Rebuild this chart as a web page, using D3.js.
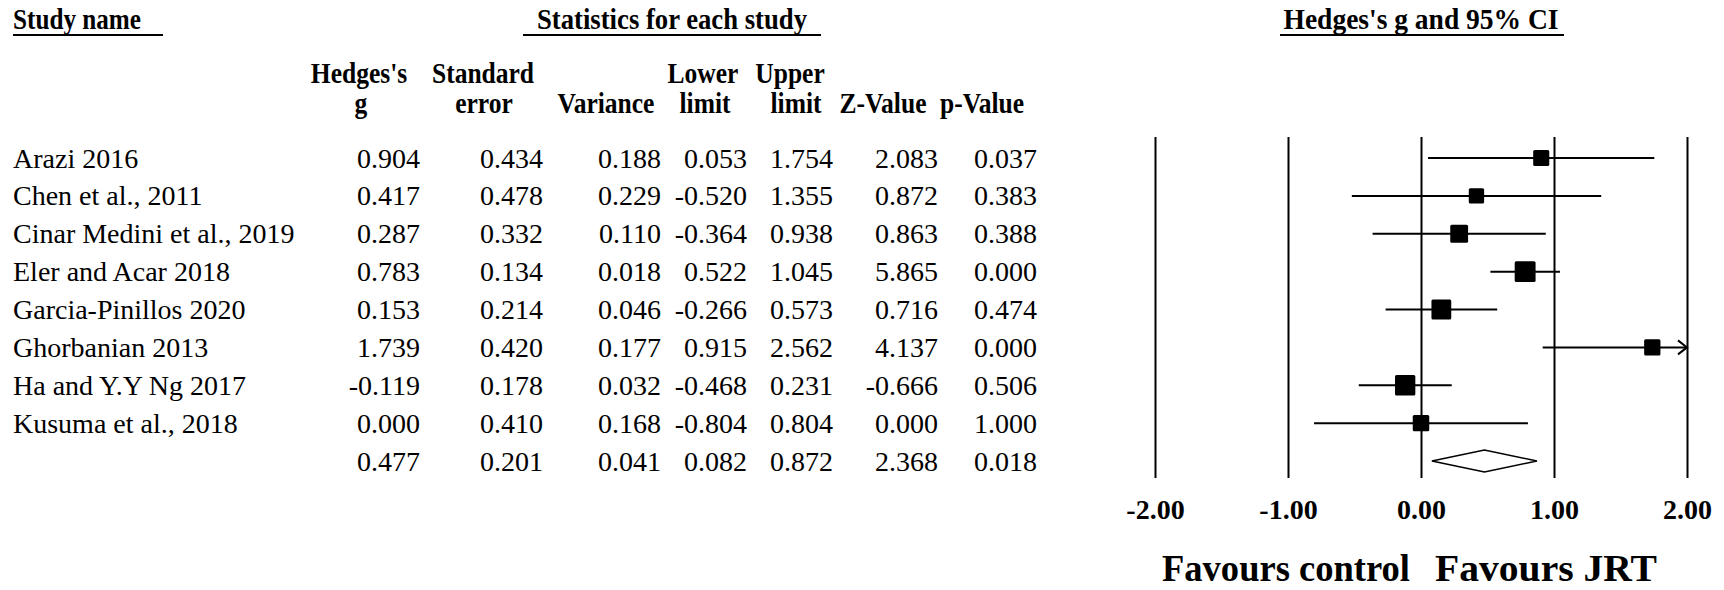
<!DOCTYPE html>
<html lang="en">
<head>
<meta charset="UTF-8">
<script src="https://d3js.org/d3.v7.min.js"></script>
<style>
  body { margin: 0; background: #fff; }
  svg { display: block; font-family: "Liberation Serif", "Times New Roman", serif; }
  .cell { font-size: 28px; fill: #000; }
  .head { font-size: 29px; font-weight: bold; }
  .title { font-size: 30px; font-weight: bold; }
  .tick line { stroke: #000; stroke-width: 2; }
  .favour { font-size: 37px; font-weight: bold; }
</style>
</head>
<body>
<svg width="1724" height="590"></svg>
<script>

// data
var studies = ["Arazi 2016", "Chen et al., 2011", "Cinar Medini et al., 2019", "Eler and Acar 2018",
               "Garcia-Pinillos 2020", "Ghorbanian 2013", "Ha and Y.Y Ng 2017", "Kusuma et al., 2018"];
var hedgesG    = [0.904, 0.417, 0.287, 0.783, 0.153, 1.739, -0.119, 0.000];
var stdErr     = [0.434, 0.478, 0.332, 0.134, 0.214, 0.420, 0.178, 0.410];
var variance   = [0.188, 0.229, 0.110, 0.018, 0.046, 0.177, 0.032, 0.168];
var lowerLimit = [0.053, -0.520, -0.364, 0.522, -0.266, 0.915, -0.468, -0.804];
var upperLimit = [1.754, 1.355, 0.938, 1.045, 0.573, 2.562, 0.231, 0.804];
var zValue     = [2.083, 0.872, 0.863, 5.865, 0.716, 4.137, -0.666, 0.000];
var pValue     = [0.037, 0.383, 0.388, 0.000, 0.474, 0.000, 0.506, 1.000];
// pooled row: g, se, variance, lower, upper, z, p
var summaryRow = [0.477, 0.201, 0.041, 0.082, 0.872, 2.368, 0.018];
var tau2 = 0.23;   // between-study variance, only used to size the boxes
var tickValues = [-2, -1, 0, 1, 2];
var headerTop    = ["Hedges's", "Standard", "", "Lower", "Upper", "", ""];
var headerBottom = ["g", "error", "Variance", "limit", "limit", "Z-Value", "p-Value"];

// layout
var svg = d3.select("svg");
var colRight = [420, 543, 661, 747, 833, 938, 1037];
var headTopX = [359, 483, 606, 703, 790, 883, 982];
var headBotX = [361, 484, 606, 705, 796, 883, 982];
var gridTop = 137, gridBottom = 478;

var loc = d3.formatLocale({decimal: ".", thousands: ",", grouping: [3], currency: ["", ""], minus: "-"});
var f3 = loc.format(".3f"), f2 = loc.format(".2f");

var y = d3.scaleLinear().domain([0, 8]).range([158, 461]);
var x = d3.scaleLinear().domain([-2, 2]).range([1155, 1687]);

// titles with underline
var titles = [
  {text: "Study name", x: 13, anchor: "start", len: 128, u0: 13, u1: 163},
  {text: "Statistics for each study", x: 672, anchor: "middle", len: 270, u0: 523, u1: 821},
  {text: "Hedges's g and 95% CI", x: 1421, anchor: "middle", len: 275, u0: 1280, u1: 1564}
];
titles.forEach(function(t) {
  svg.append("text").attr("class", "title")
    .attr("x", t.x).attr("y", 29)
    .attr("text-anchor", t.anchor)
    .attr("textLength", t.len).attr("lengthAdjust", "spacingAndGlyphs")
    .text(t.text);
  svg.append("line")
    .attr("x1", t.u0).attr("x2", t.u1).attr("y1", 35).attr("y2", 35)
    .attr("stroke", "#000").attr("stroke-width", 2);
});

// column headers
function condensed(txt, cx, cy) {
  if (!txt) return;
  svg.append("text").attr("class", "head")
    .attr("text-anchor", "middle")
    .attr("transform", "translate(" + cx + "," + cy + ") scale(0.88,1)")
    .text(txt);
}
headerTop.forEach(function(h, i) { condensed(h, headTopX[i], 83); });
headerBottom.forEach(function(h, i) { condensed(h, headBotX[i], 113); });

// table rows
var rows = studies.map(function(s, i) {
  return {name: s, vals: [hedgesG[i], stdErr[i], variance[i], lowerLimit[i], upperLimit[i], zValue[i], pValue[i]]};
});
rows.push({name: "", vals: summaryRow});

var tbl = svg.append("g");
rows.forEach(function(r, i) {
  tbl.append("text").attr("class", "cell")
    .attr("x", 13).attr("y", y(i) + 9.5)
    .text(r.name);
  r.vals.forEach(function(v, j) {
    tbl.append("text").attr("class", "cell")
      .attr("x", colRight[j]).attr("y", y(i) + 9.5)
      .attr("text-anchor", "end")
      .text(f3(v));
  });
});

// forest plot
var axis = d3.axisBottom(x).tickValues(tickValues).tickFormat(f2)
  .tickSizeInner(-(gridBottom - gridTop)).tickSizeOuter(0);
var ax = svg.append("g").attr("transform", "translate(0," + gridBottom + ")").call(axis)
  .attr("font-size", 28)
  .attr("font-family", "'Liberation Serif', 'Times New Roman', serif")
  .attr("font-weight", "bold");
ax.select(".domain").remove();
ax.selectAll(".tick text").attr("dy", null).attr("y", 41).attr("fill", "#000");

var studyData = studies.map(function(s, i) {
  return {g: hedgesG[i], lo: lowerLimit[i], hi: upperLimit[i], w: 1 / (variance[i] + tau2), i: i};
});
var side = d3.scaleSqrt().domain([0, 1]).range([0, 10.4]);
var xmin = x.domain()[0], xmax = x.domain()[1];

var fp = svg.append("g");
fp.selectAll("line.ci").data(studyData).join("line")
  .attr("class", "ci")
  .attr("x1", function(d) { return x(Math.max(d.lo, xmin)); })
  .attr("x2", function(d) { return x(Math.min(d.hi, xmax)); })
  .attr("y1", function(d) { return y(d.i); })
  .attr("y2", function(d) { return y(d.i); })
  .attr("stroke", "#000").attr("stroke-width", 2);

fp.selectAll("path.arrow").data(studyData.filter(function(d) { return d.hi > xmax; })).join("path")
  .attr("class", "arrow")
  .attr("d", function(d) {
    var ex = x(xmax), ey = y(d.i);
    return "M" + (ex - 9) + "," + (ey - 7) + "L" + ex + "," + ey + "L" + (ex - 9) + "," + (ey + 7);
  })
  .attr("fill", "none").attr("stroke", "#000").attr("stroke-width", 2);

fp.selectAll("rect.box").data(studyData).join("rect")
  .attr("class", "box")
  .attr("x", function(d) { return x(d.g) - side(d.w) / 2; })
  .attr("y", function(d) { return y(d.i) - side(d.w) / 2; })
  .attr("width", function(d) { return side(d.w); })
  .attr("height", function(d) { return side(d.w); })
  .attr("rx", 1.5)
  .attr("fill", "#000");

var sy = y(8);
fp.append("path")
  .attr("d", "M" + x(summaryRow[3]) + "," + sy +
             "L" + x(summaryRow[0]) + "," + (sy - 11) +
             "L" + x(summaryRow[4]) + "," + sy +
             "L" + x(summaryRow[0]) + "," + (sy + 11) + "Z")
  .attr("fill", "#fff").attr("stroke", "#000").attr("stroke-width", 1.6);

// favours labels
svg.append("text").attr("class", "favour")
  .attr("x", x(0) - 11).attr("y", 581).attr("text-anchor", "end")
  .attr("textLength", 248).attr("lengthAdjust", "spacingAndGlyphs")
  .text("Favours control");
svg.append("text").attr("class", "favour")
  .attr("x", x(0) + 14).attr("y", 581).attr("text-anchor", "start")
  .attr("textLength", 222).attr("lengthAdjust", "spacingAndGlyphs")
  .text("Favours JRT");

</script>
</body>
</html>
